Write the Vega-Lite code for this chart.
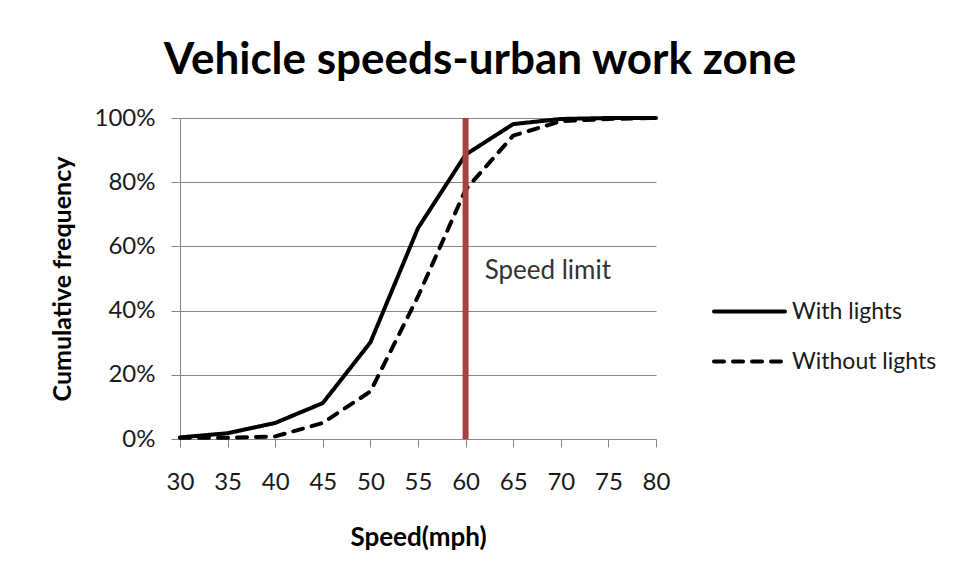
{
  "$schema": "https://vega.github.io/schema/vega-lite/v6.json",
  "width": 476,
  "height": 321,
  "autosize": {"type": "none"},
  "padding": {"left": 180, "top": 118, "right": 305, "bottom": 141},
  "background": "white",
  "config": {
    "view": {"stroke": null},
    "font": "Lato",
    "axis": {"labelFont": "Lato", "titleFont": "Lato"}
  },
  "title": {
    "text": "Vehicle speeds-urban work zone",
    "font": "Lato",
    "fontSize": 44,
    "fontWeight": "bold",
    "color": "black",
    "anchor": "middle",
    "frame": "group",
    "dx": 62,
    "baseline": "alphabetic",
    "offset": -12
  },
  "datasets": {
    "curves": [
      {"speed": 30, "pct": 0.005, "series": "With lights"},
      {"speed": 35, "pct": 0.018, "series": "With lights"},
      {"speed": 40, "pct": 0.05, "series": "With lights"},
      {"speed": 45, "pct": 0.112, "series": "With lights"},
      {"speed": 50, "pct": 0.301, "series": "With lights"},
      {"speed": 55, "pct": 0.657, "series": "With lights"},
      {"speed": 60, "pct": 0.886, "series": "With lights"},
      {"speed": 65, "pct": 0.981, "series": "With lights"},
      {"speed": 70, "pct": 0.997, "series": "With lights"},
      {"speed": 75, "pct": 1.0, "series": "With lights"},
      {"speed": 80, "pct": 1.0, "series": "With lights"},
      {"speed": 30, "pct": 0.004, "series": "Without lights"},
      {"speed": 35, "pct": 0.004, "series": "Without lights"},
      {"speed": 40, "pct": 0.008, "series": "Without lights"},
      {"speed": 45, "pct": 0.05, "series": "Without lights"},
      {"speed": 50, "pct": 0.148, "series": "Without lights"},
      {"speed": 55, "pct": 0.444, "series": "Without lights"},
      {"speed": 60, "pct": 0.777, "series": "Without lights"},
      {"speed": 65, "pct": 0.945, "series": "Without lights"},
      {"speed": 70, "pct": 0.99, "series": "Without lights"},
      {"speed": 75, "pct": 0.997, "series": "Without lights"},
      {"speed": 80, "pct": 1.0, "series": "Without lights"}
    ],
    "limit": [{"speed": 60}],
    "note": [{"speed": 62, "pct": 0.498, "label": "Speed limit"}]
  },
  "layer": [
    {
      "data": {"name": "curves"},
      "mark": {"type": "line", "color": "black", "strokeWidth": 4, "strokeCap": "round", "strokeJoin": "round"},
      "encoding": {
        "x": {
          "field": "speed",
          "type": "quantitative",
          "scale": {"domain": [30, 80], "nice": false, "zero": false},
          "axis": {
            "values": [30, 35, 40, 45, 50, 55, 60, 65, 70, 75, 80],
            "grid": false,
            "domainColor": "#868686",
            "tickColor": "#868686",
            "tickSize": 8,
            "labelFontSize": 24,
            "labelColor": "#1a1a1a",
            "labelBaseline": "alphabetic",
            "labelPadding": 42,
            "labelFlush": false,
            "labelOverlap": false,
            "title": "Speed(mph)",
            "titleFontSize": 26,
            "titleFontWeight": "bold",
            "titleColor": "black",
            "titleX": 238,
            "titleY": 106,
            "titleBaseline": "alphabetic",
            "titleAlign": "center"
          }
        },
        "y": {
          "field": "pct",
          "type": "quantitative",
          "scale": {"domain": [0, 1], "nice": false},
          "axis": {
            "values": [0, 0.2, 0.4, 0.6, 0.8, 1],
            "format": ".0%",
            "grid": true,
            "gridColor": "#868686",
            "gridWidth": 1,
            "domainColor": "#868686",
            "tickColor": "#868686",
            "tickSize": 9,
            "labelFontSize": 24,
            "labelColor": "#1a1a1a",
            "labelPadding": 16,
            "labelFlush": false,
            "labelOverlap": false,
            "title": "Cumulative frequency",
            "titleFontSize": 25,
            "titleFontWeight": "bold",
            "titleColor": "black",
            "titleAngle": -90,
            "titleX": -110,
            "titleY": 160.5,
            "titleBaseline": "alphabetic",
            "titleAlign": "center"
          }
        },
        "strokeDash": {
          "field": "series",
          "type": "nominal",
          "scale": {"domain": ["With lights", "Without lights"], "range": [[1, 0], [10, 9]]},
          "legend": {
            "orient": "none",
            "legendX": 532,
            "legendY": 156,
            "title": null,
            "symbolType": "stroke",
            "symbolSize": 5041,
            "symbolStrokeWidth": 4,
            "symbolStrokeColor": "black",
            "labelFont": "Lato",
            "labelFontSize": 23,
            "labelColor": "#1a1a1a",
            "labelOffset": 5,
            "rowPadding": -4,
            "encode": {"symbols": {"update": {"strokeCap": {"value": "round"}}}}
          }
        }
      }
    },
    {
      "data": {"name": "limit"},
      "mark": {"type": "rule", "color": "#A8423F", "strokeWidth": 6},
      "encoding": {"x": {"field": "speed", "type": "quantitative"}}
    },
    {
      "data": {"name": "note"},
      "mark": {"type": "text", "align": "left", "baseline": "alphabetic", "fontSize": 26, "font": "Lato", "color": "#333333"},
      "encoding": {
        "x": {"field": "speed", "type": "quantitative"},
        "y": {"field": "pct", "type": "quantitative"},
        "text": {"field": "label"}
      }
    }
  ]
}
